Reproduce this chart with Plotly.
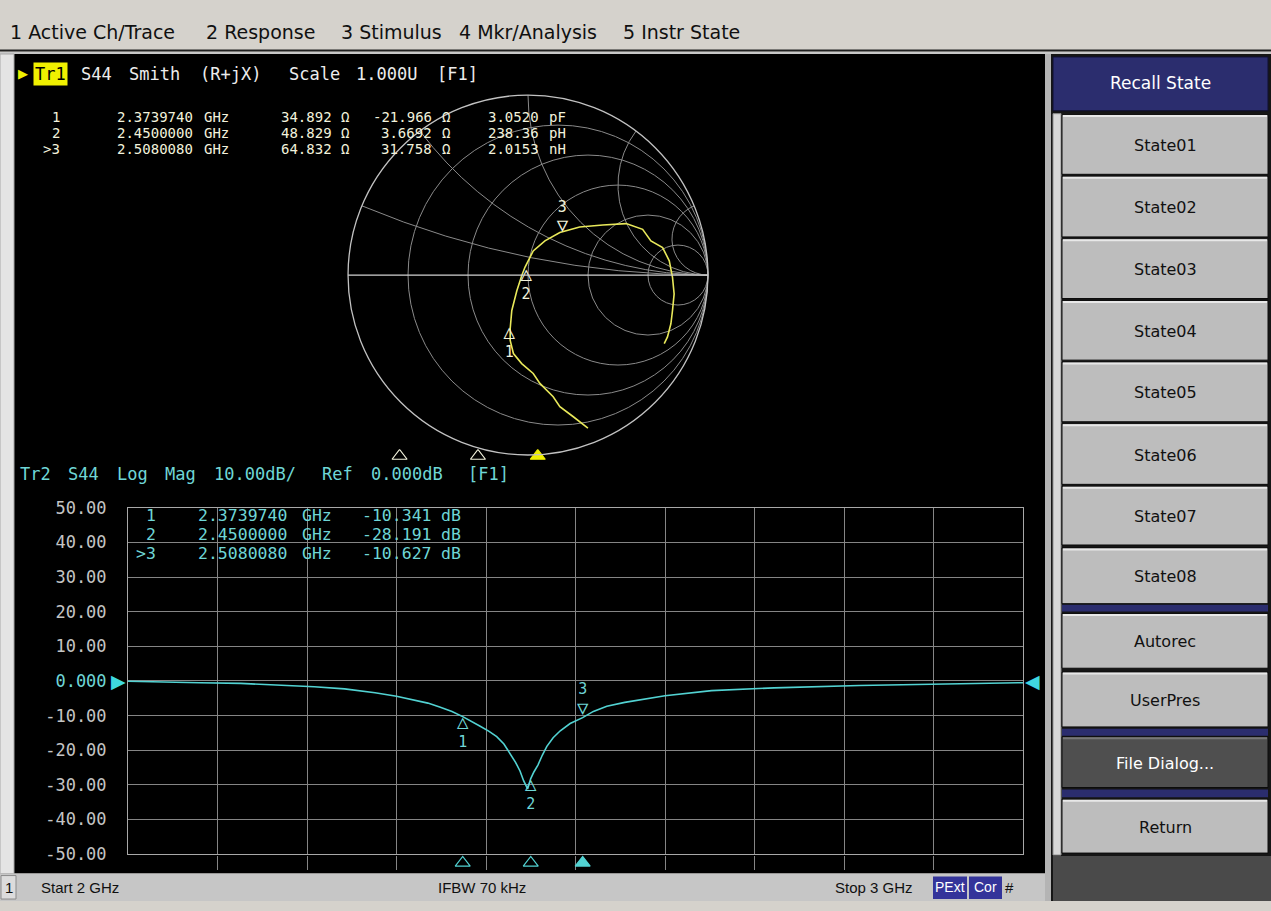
import numpy as np
import plotly.graph_objects as go

W, H = 1271, 911


def px(x):
    return x / W


def py(y):
    return 1 - y / H


# ---------------- data ----------------
# Tr2 : S44 log magnitude
freq_ghz = [2.000, 2.040, 2.080, 2.126, 2.170, 2.208, 2.242, 2.276, 2.300, 2.318,
            2.335, 2.349, 2.362, 2.374, 2.384, 2.393, 2.403, 2.412, 2.420, 2.427,
            2.433, 2.438, 2.442, 2.4465, 2.450, 2.4535, 2.458, 2.463, 2.468, 2.475,
            2.483, 2.494, 2.508, 2.520, 2.535, 2.555, 2.572, 2.600, 2.652, 2.722,
            2.817, 2.900, 2.941, 3.000]
s44_db = [-0.1, -0.2, -0.5, -0.7, -1.2, -1.7, -2.3, -3.4, -4.4, -5.4,
          -6.4, -7.6, -8.8, -10.3, -11.6, -13.0, -14.5, -16.1, -18.2, -20.9,
          -23.5, -26.0, -28.8, -31.2, -28.2, -26.3, -24.3, -21.4, -18.9, -16.4,
          -14.4, -12.3, -10.6, -8.8, -7.3, -6.2, -5.4, -4.3, -2.8, -2.0,
          -1.3, -0.9, -0.7, -0.5]

# Tr1 : S44 on the Smith chart (reflection coefficient)
gamma_re = [0.333, 0.250, 0.177, 0.140, 0.066, 0.029, -0.035, -0.081, -0.099, -0.099,
            -0.090, -0.062, -0.035, -0.017, 0.029, 0.094, 0.177, 0.287, 0.416, 0.545,
            0.637, 0.683, 0.748, 0.785, 0.803, 0.812, 0.803, 0.794, 0.775, 0.757]
gamma_im = [-0.851, -0.786, -0.731, -0.676, -0.602, -0.547, -0.492, -0.436, -0.363, -0.298,
            -0.197, -0.087, -0.004, 0.043, 0.134, 0.190, 0.236, 0.267, 0.278, 0.286,
            0.254, 0.190, 0.153, 0.079, -0.013, -0.105, -0.197, -0.271, -0.344, -0.381]

# markers
mkr_ids = ["1", "2", ">3"]
mkr_tags = ["1", "2", "3"]
mkr_freq_ghz = [2.3739740, 2.4500000, 2.5080080]
mkr_r_ohm = [34.892, 48.829, 64.832]
mkr_x_ohm = [-21.966, 3.6692, 31.758]
mkr_lc_txt = ["3.0520", "238.36", "2.0153"]
mkr_lc_unit = ["pF", "pH", "nH"]
mkr_db = [-10.341, -28.191, -10.627]
z0_ohm = 50.0

ytick_vals = [50, 40, 30, 20, 10, 0, -10, -20, -30, -40, -50]
ytick_labels = ["50.00", "40.00", "30.00", "20.00", "10.00", "0.000",
                "-10.00", "-20.00", "-30.00", "-40.00", "-50.00"]

menu_items = ["1 Active Ch/Trace", "2 Response", "3 Stimulus", "4 Mkr/Analysis", "5 Instr State"]
softkeys = ["State01", "State02", "State03", "State04", "State05", "State06",
            "State07", "State08", "Autorec", "UserPres", "File Dialog...", "Return"]

# ---------------- colours / fonts ----------------
MONO = "DejaVu Sans Mono"
YEL = "#e8e85a"
YEL_TXT = "#f2f2dc"
CYAN = "#52d2d2"
CYAN_TXT = "#6fd6d6"
GRID = "#858585"
NAVY = "#2b2d6e"

fig = go.Figure()

# ---------------- Smith chart ----------------
g = np.array(gamma_re) + 1j * np.array(gamma_im)
z = (1 + g) / (1 - g)
fig.add_trace(go.Scattersmith(real=z.real, imag=z.imag, mode="lines",
                              line=dict(color=YEL, width=1.6), subplot="smith",
                              showlegend=False, hoverinfo="skip"))

zm = (np.array(mkr_r_ohm) + 1j * np.array(mkr_x_ohm)) / z0_ohm
below = [0, 1]
above = [2]
TRI_UP = "<span style='font-size:19px'>△</span><br>"
TRI_DN = "<br><span style='font-size:19px'>▽</span>"
fig.add_trace(go.Scattersmith(real=zm.real[below], imag=zm.imag[below], mode="text",
                              text=[TRI_UP + mkr_tags[i] for i in below],
                              textposition="bottom center",
                              textfont=dict(family=MONO, size=15, color=YEL_TXT),
                              subplot="smith", showlegend=False, hoverinfo="skip"))
fig.add_trace(go.Scattersmith(real=zm.real[above], imag=zm.imag[above], mode="text",
                              text=[mkr_tags[i] + TRI_DN for i in above],
                              textposition="top center",
                              textfont=dict(family=MONO, size=15, color=YEL_TXT),
                              subplot="smith", showlegend=False, hoverinfo="skip"))

# stimulus position triangles under the smith chart
fig.add_trace(go.Scatter(x=mkr_freq_ghz, y=[0.5] * 3, xaxis="x2", yaxis="y2", mode="markers",
                         marker=dict(symbol=["triangle-up-open", "triangle-up-open", "triangle-up"],
                                     size=13, color=[YEL_TXT, YEL_TXT, "#f0f000"],
                                     line=dict(width=1.2, color=[YEL_TXT, YEL_TXT, "#f0f000"])),
                         showlegend=False, hoverinfo="skip"))

# ---------------- Log-mag chart ----------------
fig.add_trace(go.Scatter(x=freq_ghz, y=s44_db, mode="lines",
                         line=dict(color=CYAN, width=1.6), showlegend=False, hoverinfo="skip"))
fig.add_trace(go.Scatter(x=[mkr_freq_ghz[i] for i in below], y=[mkr_db[i] for i in below],
                         mode="text", text=[TRI_UP + mkr_tags[i] for i in below],
                         textposition="bottom center",
                         textfont=dict(family=MONO, size=15, color=CYAN_TXT),
                         showlegend=False, hoverinfo="skip", cliponaxis=False))
fig.add_trace(go.Scatter(x=[mkr_freq_ghz[i] for i in above], y=[mkr_db[i] for i in above],
                         mode="text", text=[mkr_tags[i] + TRI_DN for i in above],
                         textposition="top center",
                         textfont=dict(family=MONO, size=15, color=CYAN_TXT),
                         showlegend=False, hoverinfo="skip", cliponaxis=False))
fig.add_trace(go.Scatter(x=mkr_freq_ghz, y=[0.5] * 3, xaxis="x", yaxis="y3", mode="markers",
                         marker=dict(symbol=["triangle-up-open", "triangle-up-open", "triangle-up"],
                                     size=13, color=CYAN, line=dict(width=1.2, color=CYAN)),
                         showlegend=False, hoverinfo="skip", cliponaxis=False))

# ---------------- shapes (screen furniture) ----------------
shapes = []


def rect(x0, y0, x1, y1, fill, line=None, lw=0, layer="below"):
    shapes.append(dict(type="rect", xref="paper", yref="paper",
                       x0=px(x0), x1=px(x1), y0=py(y1), y1=py(y0),
                       fillcolor=fill, line=dict(width=lw, color=line or fill), layer=layer))


def hline(x0, x1, y, color, w=1, layer="below"):
    shapes.append(dict(type="line", xref="paper", yref="paper",
                       x0=px(x0), x1=px(x1), y0=py(y), y1=py(y),
                       line=dict(color=color, width=w), layer=layer))


rect(0, 0, 1271, 41, "#d5d2cc")
hline(0, 1271, 41.5, "#202020", 2)
rect(0, 43, 1271, 46, "#c8c8c8")
rect(14, 45, 1045, 883, "#000000")
rect(0, 45, 14, 883, "#e4e4e4", "#a8a8a8", 1)
rect(0, 883, 1045, 911, "#c6c6c6")
rect(1, 885, 16, 909, "#dcdcdc", "#8a8a8a", 1)
# right soft-key panel
rect(1045, 45, 1271, 911, "#161616")
rect(1045, 45, 1051, 911, "#b4b4b4")
rect(1053, 48, 1268, 103, NAVY, "#101030", 1)
rect(1053, 106, 1061, 864, "#d8d8d8", "#909090", 1)
softkey_rows = [(107, 168), (170, 232), (234, 295), (297, 358), (360, 421), (423, 485),
                (487, 547), (550, 607), (617, 673), (677, 733), (743, 795), (807, 862)]
for (y0, y1) in [(608, 615), (735, 742), (797, 805)]:
    rect(1062, y0, 1268, y1, NAVY)
for k, (y0, y1) in enumerate(softkey_rows):
    fill = "#4f4f4f" if softkeys[k].startswith("File") else "#bdbdbd"
    rect(1062, y0, 1268, y1, fill, "#0c0c0c", 1)
    hline(1063, 1267, y0 + 1.5, "#e8e8e8" if fill != "#4f4f4f" else "#777777", 2)
rect(1053, 865, 1271, 911, "#4a4a4a")

# ---------------- annotations ----------------
ann = []


def text(x, y, s, color, size=17, family=MONO, anchor="left", bg=None):
    d = dict(x=px(x), y=py(y), xref="paper", yref="paper", text=s, showarrow=False,
             xanchor=anchor, yanchor="middle", font=dict(family=family, size=size, color=color),
             borderpad=0)
    if bg:
        d["bgcolor"] = bg
        d["borderpad"] = 1
    ann.append(d)


# menu bar
for s, x in zip(menu_items, [9, 205, 340, 458, 622]):
    text(x, 23, s, "#101010", size=19, family="DejaVu Sans")

# Smith header
text(17, 65, "▶", "#f0f000", size=13, family="DejaVu Sans")
text(50, 65, "Tr1", "#000000", size=17, anchor="center", bg="#f0f000")
smith_head = ["S44", "Smith", "(R+jX)", "Scale", "1.000U", "[F1]"]
for s, x in zip(smith_head, [80, 128, 199, 288, 355, 436]):
    text(x, 65, s, "#ececec")

# Smith readout (tight rows as on the instrument)
RS = 14
for i in range(3):
    y = [109.5, 125.9, 142.3][i]
    text(61, y, mkr_ids[i], YEL_TXT, size=RS, anchor="right")
    text(194, y, f"{mkr_freq_ghz[i]:.7f}", YEL_TXT, size=RS, anchor="right")
    text(203, y, "GHz", YEL_TXT, size=RS)
    text(333, y, f"{mkr_r_ohm[i]:.5g}", YEL_TXT, size=RS, anchor="right")
    text(340, y, "Ω", YEL_TXT, size=RS)
    text(433, y, f"{mkr_x_ohm[i]:.5g}", YEL_TXT, size=RS, anchor="right")
    text(441, y, "Ω", YEL_TXT, size=RS)
    text(540, y, mkr_lc_txt[i], YEL_TXT, size=RS, anchor="right")
    text(548, y, mkr_lc_unit[i], YEL_TXT, size=RS)

# Log-mag header
lm_head = ["Tr2", "S44", "Log", "Mag", "10.00dB/", "Ref", "0.000dB", "[F1]"]
for s, x in zip(lm_head, [19, 67, 116, 164, 213, 321, 370, 467]):
    text(x, 474, s, CYAN_TXT)

# Log-mag readout
LS = 16.5
for i in range(3):
    y = [517, 536.5, 556][i]
    text(157, y, mkr_ids[i], CYAN_TXT, size=LS, anchor="right")
    text(288, y, f"{mkr_freq_ghz[i]:.7f}", CYAN_TXT, size=LS, anchor="right")
    text(301, y, "GHz", CYAN_TXT, size=LS)
    text(433, y, f"{mkr_db[i]:.3f}", CYAN_TXT, size=LS, anchor="right")
    text(440, y, "dB", CYAN_TXT, size=LS)

# reference-level arrows
ann.append(dict(x=2, y=0, xref="x", yref="y", text="▶", showarrow=False, xanchor="right",
                yanchor="middle", font=dict(family="DejaVu Sans", size=19, color="#3fd8e0")))
ann.append(dict(x=3, y=0, xref="x", yref="y", text="◀", showarrow=False, xanchor="left",
                yanchor="middle", font=dict(family="DejaVu Sans", size=19, color="#3fd8e0")))

# status bar
SB = "Liberation Sans"
text(8.5, 897, "1", "#101010", size=15, family=SB, anchor="center")
text(40, 897, "Start 2 GHz", "#101010", size=15, family=SB)
text(482, 897, "IFBW 70 kHz", "#101010", size=15, family=SB, anchor="center")
text(914, 897, "Stop 3 GHz", "#101010", size=15, family=SB, anchor="right")
rect(933, 886, 967, 909, "#34349a")
rect(969, 886, 1002, 909, "#34349a")
text(950, 897, "PExt", "#ffffff", size=14, family=SB, anchor="center")
text(985.5, 897, "Cor", "#ffffff", size=14, family=SB, anchor="center")
text(1009, 897, "#", "#101010", size=15, family=SB, anchor="center")

# soft keys
text(1160, 75, "Recall State", "#ffffff", size=17, family="DejaVu Sans", anchor="center")
for k, (y0, y1) in enumerate(softkey_rows):
    col = "#ffffff" if softkeys[k].startswith("File") else "#111111"
    text(1165, (y0 + y1) / 2 + 1, softkeys[k], col, size=16, family="DejaVu Sans", anchor="center")

# y tick label with reference colour for 0.000
ticktext = [f'<span style="color:{CYAN_TXT}">{t}</span>' if v == 0 else t
            for v, t in zip(ytick_vals, ytick_labels)]

fig.update_layout(
    width=W, height=H, margin=dict(l=0, r=0, t=0, b=0),
    paper_bgcolor="#d5d2cc", plot_bgcolor="#000000",
    shapes=shapes, annotations=ann,
    xaxis=dict(domain=[px(128), px(1023)], range=[2, 3], tick0=2, dtick=0.1,
               showticklabels=False, ticks="", showgrid=True, gridcolor=GRID, gridwidth=1,
               zeroline=False, showline=True, linecolor="#a8a8a8", linewidth=1, mirror=True,
               anchor="y", fixedrange=True),
    yaxis=dict(domain=[py(863), py(509)], range=[-50, 50], tickvals=ytick_vals, ticktext=ticktext,
               tickfont=dict(family=MONO, size=17, color="#c4c4c4"), ticks="outside", ticklen=17,
               tickcolor="rgba(0,0,0,0)", showgrid=True, gridcolor=GRID, gridwidth=1,
               zeroline=False, showline=True, linecolor="#a8a8a8", linewidth=1, mirror=True,
               anchor="x", fixedrange=True),
    yaxis3=dict(domain=[py(879), py(865)], range=[0, 1], visible=False, anchor="x", fixedrange=True),
    xaxis2=dict(domain=[px(14), px(1045)], range=[2, 3], visible=False, anchor="y2", fixedrange=True),
    yaxis2=dict(domain=[py(463), py(449)], range=[0, 1], visible=False, anchor="x2", fixedrange=True),
    smith=dict(domain=dict(x=[px(344), px(712)], y=[py(455), py(87)]), bgcolor="rgba(0,0,0,0)",
               realaxis=dict(tickvals=[0.2, 0.5, 1, 2, 5], showticklabels=False, ticks="",
                             gridcolor="#8a8a8a", gridwidth=1, showline=True,
                             linecolor="#d2d2d2", linewidth=1.2, color="#d2d2d2"),
               imaginaryaxis=dict(tickvals=[0.2, 0.5, 1, 2, 5], showticklabels=False, ticks="",
                                  gridcolor="#8a8a8a", gridwidth=1, showline=True,
                                  linecolor="#c2c2c2", linewidth=1.3, color="#c2c2c2")),
)

fig.write_html("out.html", config={"displayModeBar": False},
               post_script="document.body.style.margin='0px';"
                           "document.body.style.background='#c6c6c6';")
